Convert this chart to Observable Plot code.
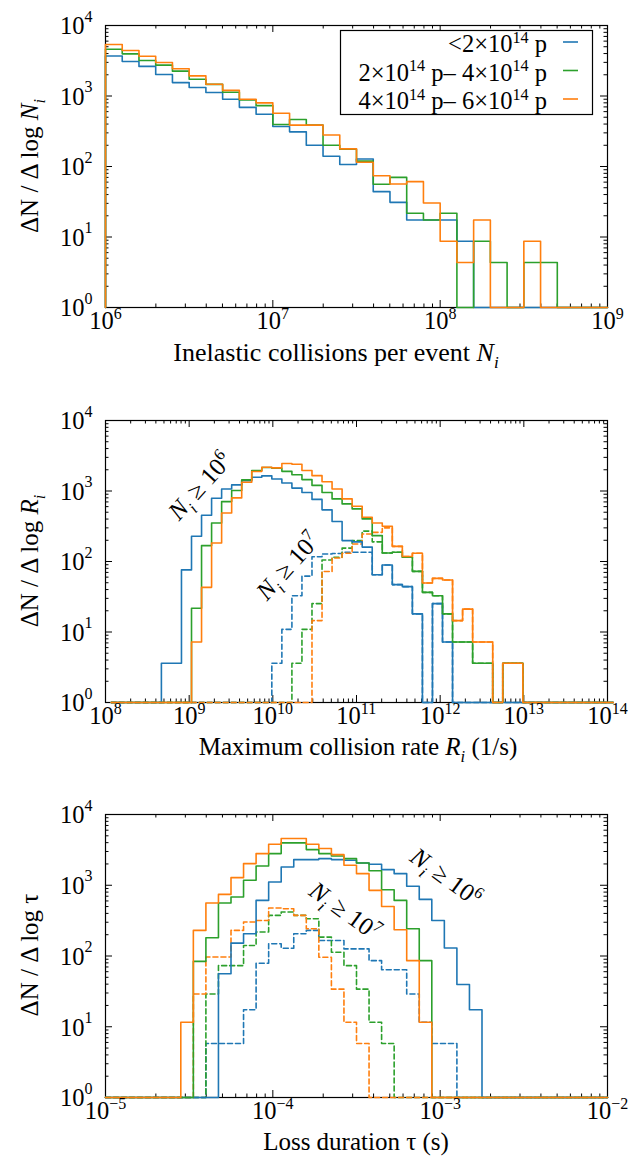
<!DOCTYPE html>
<html>
<head>
<meta charset="utf-8">
<script src="https://cdn.jsdelivr.net/npm/d3@7"></script>
<script src="https://cdn.jsdelivr.net/npm/@observablehq/plot@0.6"></script>
<style>
  html, body { margin: 0; padding: 0; background: #fff; }
  #chart { width: 634px; height: 1172px; }
  #chart svg { display: block; }
</style>
</head>
<body>
<div id="chart"></div>
<script>
// ================= DATA =================
const seriesColors = ["#1f77b4", "#2ca02c", "#ff7f0e"]; // <2e14 p, 2-4e14 p, 4-6e14 p

// ---- Panel 1: inelastic collisions per event (bins of 0.1 decade from 10^6) ----
const collisionBinStartExp = 6;
const collisionBinWidth = 0.1;
const collisionsLow  = [3700, 3090, 2630, 2020, 1550, 1320, 1120, 900, 690, 550, 370, 310, 200, 140, 107, 128, 44, 31, 17.4, 17.4, 17.4, 8.7, 0, 0, 0, 0, 0, 0, 0, 0];
const collisionsMid  = [4600, 3960, 3190, 2740, 2250, 1730, 1460, 1130, 880, 730, 395, 464, 386, 200, 176, 119, 56, 70, 21.7, 17.4, 21.7, 0, 8.7, 4.34, 0, 4.34, 4.34, 0, 0, 0];
const collisionsHigh = [5370, 4420, 3670, 2990, 2430, 1930, 1470, 1200, 900, 800, 570, 386, 386, 280, 178, 115, 74, 56.5, 61, 30.4, 8.7, 4.34, 17.4, 0, 0, 8.7, 0, 0, 0, 0];

// ---- Panel 2: maximum collision rate (bins of 0.12 decade) ----
const rateBinStartExp = 8.068;
const rateBinWidth = 0.12;
const rateLowAll  = [0,0,0,0,0, 3.6,3.6,76,228,452, 789,1070,1220,1400,1570, 1640,1480,1300,1100,950, 760,540,370,198,190, 160,65,89,47,44, 18.1,0,25.3,7.2,0, 0,0,0,0,0, 0,0,0,0,0, 0,0,0,0,0];
const rateMidAll  = [0,0,0,0,0, 0,0,0,21.7,168, 352,707,1014,1436,1950, 2150,2100,1900,1700,1450, 1200,950,772,656,557, 402,233,132,135,115, 72.5,36.5,32.7,18.1,7.2, 7.2,3.6,3.6,0,3.6, 3.6,0,0,0,0, 0,0,0,0,0];
const rateHighAll = [0,0,0,0,0, 0,0,0,7.2,43, 183,488,798,1331,1888, 2175,2128,2450,2400,1950, 1650,1350,1070,772,607, 424,352,316,164,118, 131,49.5,57.7,54.6,14.5, 21.1,7.2,7.2,0,3.6, 3.6,0,0,0,0, 0,0,0,0,0];
const rateLowBig  = [0,0,0,0,0, 0,0,0,0,0, 0,0,0,0,0, 0,3.6,10.9,32.6,62, 117,128,130,135,135, 135,65,89,47,44, 18.1,0,25.3,7.2,0, 0,0,0,0,0, 0,0,0,0,0, 0,0,0,0,0];
const rateMidBig  = [0,0,0,0,0, 0,0,0,0,0, 0,0,0,0,0, 0,0,0,3.6,10.9, 25.3,105,115,155,198, 270,190,132,135,115, 72.5,36.5,32.7,18.1,7.2, 7.2,3.6,3.6,0,3.6, 3.6,0,0,0,0, 0,0,0,0,0];
const rateHighBig = [0,0,0,0,0, 0,0,0,0,0, 0,0,0,0,0, 0,0,0,0,0, 14.5,72,112,131,177, 246,259,300,164,118, 131,49.5,57.7,54.6,14.5, 21.1,7.2,7.2,0,3.6, 3.6,0,0,0,0, 0,0,0,0,0];

// ---- Panel 3: loss duration (bins of 0.075 decade from 10^-5) ----
const durationBinStartExp = -5;
const durationBinWidth = 0.075;
const durLowAll  = [0,0,0,0,0, 0,0,0,0,56, 152,206,611,1112,1815, 2303,2303,2382,2303,2254, 2066,1979,1662,1459,966, 631,318,130,39.5,17.4, 0,0,0,0,0, 0,0,0,0,0];
const durMidAll  = [0,0,0,0,0, 0,0,84,181,561, 682,1175,1875,2800,3970, 3970,3193,2800,2597,2382, 2066,1600,865,611,243, 86,0,0,0,0, 0,0,0,0,0, 0,0,0,0,0];
const durHighAll = [0,0,0,0,0, 0,11.6,230,561,743, 1280,2023,2800,3800,4573, 4573,3800,3300,2712,1915, 1459,847,502,235,86, 11.6,0,0,0,0, 0,0,0,0,0, 0,0,0,0,0];
const durLowBig  = [0,0,0,0,0, 0,0,0,5.8,5.8, 5.8,17.4,79,149,129, 206,230,166,166,126, 126,86,64,64,29, 11.6,5.8,5.8,0,0, 0,0,0,0,0, 0,0,0,0,0];
const durMidBig  = [0,0,0,0,0, 0,0,0,29,73, 73,141,218,375,418, 375,336,185,113,73, 34,11.6,5.8,0,0, 0,0,0,0,0, 0,0,0,0,0, 0,0,0,0,0];
const durHighBig = [0,0,0,0,0, 0,0,29,97,97, 230,302,318,476,466, 375,243,96,34,11.6, 5.8,0,0,0,0, 0,0,0,0,0, 0,0,0,0,0, 0,0,0,0,0];

// ---- tick labels ----
const collisionTicks = [1e6, 1e7, 1e8, 1e9];
const collisionTickExp = ["6", "7", "8", "9"];
const rateTicks = [1e8, 1e9, 1e10, 1e11, 1e12, 1e13, 1e14];
const rateTickExp = ["8", "9", "10", "11", "12", "13", "14"];
const durationTicks = [1e-5, 1e-4, 1e-3, 1e-2];
const durationTickExp = ["\u22125", "\u22124", "\u22123", "\u22122"];
const countTicks = [1, 10, 100, 1000, 10000];
const countTickExp = ["0", "1", "2", "3", "4"];

// ================= RENDERING =================
const FONT = "'Liberation Serif', 'Times New Roman', serif";
const W = 634, ML = 105, MR = 27;
const BASE = 24.5, SUP = 16;

function binEdges(startExp, width, n) {
  return d3.range(n + 1).map(i => Math.pow(10, startExp + width * i));
}
function stepPoints(vals, edges) {
  const pts = [{x: edges[0], y: 1}];
  vals.forEach((v, i) => pts.push({x: edges[i], y: Math.max(v, 1)}));
  pts.push({x: edges[vals.length], y: Math.max(vals[vals.length - 1], 1)});
  pts.push({x: edges[vals.length], y: 1});
  return pts;
}
function minorTicks(major) {
  const out = [];
  for (let i = 0; i < major.length - 1; i++)
    for (let k = 2; k <= 9; k++) out.push(major[i] * k);
  return out;
}
function supWidth(s) {
  let w = 0;
  for (const c of s) w += (c === "\u2212" ? 0.564 : 0.5) * SUP;
  return w;
}

function makePanel(cfg) {
  const {height, mt, mb, xDomain, xTicks, xExp, series} = cfg;
  const plotH = height - mt - mb, plotW = W - ML - MR;
  const xMinor = minorTicks(xTicks);
  const yMinor = minorTicks(countTicks);
  const marks = [];
  // frame and inward ticks first, so the histogram lines sit on top
  marks.push(Plot.frame({stroke: "black", strokeWidth: 1.2}));
  const MAJ = 7, MIN = 3.5;
  marks.push(Plot.ruleX(xTicks, {insetBottom: plotH - MAJ, stroke: "black"}));
  marks.push(Plot.ruleX(xTicks, {insetTop: plotH - MAJ, stroke: "black"}));
  marks.push(Plot.ruleX(xMinor, {insetBottom: plotH - MIN, stroke: "black"}));
  marks.push(Plot.ruleX(xMinor, {insetTop: plotH - MIN, stroke: "black"}));
  marks.push(Plot.ruleY(countTicks, {insetRight: plotW - MAJ, stroke: "black"}));
  marks.push(Plot.ruleY(countTicks, {insetLeft: plotW - MAJ, stroke: "black"}));
  marks.push(Plot.ruleY(yMinor, {insetRight: plotW - MIN, stroke: "black"}));
  marks.push(Plot.ruleY(yMinor, {insetLeft: plotW - MIN, stroke: "black"}));
  for (const s of series) {
    marks.push(Plot.line(stepPoints(s.values, s.edges), {
      x: "x", y: "y", curve: "step-after", stroke: s.color, strokeWidth: 1.6,
      strokeDasharray: s.dashed ? "5,3" : null
    }));
  }

  // x tick labels "10" + superscript exponent, grouped by exponent width
  const xl = xTicks.map((v, i) => ({v, e: xExp[i]}));
  const groups = d3.group(xl, d => d.e.length + (d.e.includes("\u2212") ? "m" : ""));
  for (const [, g] of groups) {
    const ws = supWidth(g[0].e), w10 = BASE;
    const off = (w10 - ws) / 2;
    marks.push(Plot.text(g, {x: "v", text: () => "10", frameAnchor: "bottom", dy: 21, dx: off,
      textAnchor: "end", fontSize: BASE, fontFamily: FONT}));
    marks.push(Plot.text(g, {x: "v", text: "e", frameAnchor: "bottom", dy: 11, dx: off,
      textAnchor: "start", fontSize: SUP, fontFamily: FONT}));
  }
  // y tick labels
  const yl = countTicks.map((v, i) => ({v, e: countTickExp[i]}));
  const gap = 13;
  marks.push(Plot.text(yl, {y: "v", text: () => "10", frameAnchor: "left", dx: -(gap + supWidth("0")),
    textAnchor: "end", fontSize: BASE, fontFamily: FONT, dy: 1}));
  marks.push(Plot.text(yl, {y: "v", text: "e", frameAnchor: "left", dx: -gap, dy: -9,
    textAnchor: "end", fontSize: SUP, fontFamily: FONT}));

  const svg = Plot.plot({
    width: W, height, marginLeft: ML, marginRight: MR, marginTop: mt, marginBottom: mb,
    x: {type: "log", domain: xDomain, axis: null},
    y: {type: "log", domain: [1, 1e4], axis: null},
    style: {background: "white", fontFamily: FONT, overflow: "visible"},
    marks
  });
  return svg;
}

function rich(svg, parts, {x, y, size = 25, anchor = "middle", rotate = 0}) {
  const g = d3.select(svg).append("g").attr("transform", `translate(${x},${y}) rotate(${rotate})`);
  const t = g.append("text").attr("x", 0).attr("y", size * 0.33)
    .attr("text-anchor", anchor).attr("font-family", FONT).attr("font-size", size).attr("fill", "black");
  let shift = 0;
  for (const p of parts) {
    const ts = t.append("tspan").text(p.t);
    const target = p.sub ? size * 0.28 : p.sup ? -size * 0.38 : 0;
    if (target !== shift) { ts.attr("dy", target - shift); shift = target; }
    if (p.sub || p.sup) ts.attr("font-size", size * 0.66);
    if (p.it) ts.attr("font-style", "italic");
  }
  return t;
}

const chart = document.getElementById("chart");

// ---------- Panel 1 ----------
const e1 = binEdges(collisionBinStartExp, collisionBinWidth, collisionsLow.length);
const p1 = makePanel({
  height: 395, mt: 25, mb: 88, xDomain: [1e6, 1e9], xTicks: collisionTicks, xExp: collisionTickExp,
  series: [
    {values: collisionsLow, edges: e1, color: seriesColors[0]},
    {values: collisionsMid, edges: e1, color: seriesColors[1]},
    {values: collisionsHigh, edges: e1, color: seriesColors[2]}
  ]
});
chart.appendChild(p1);

// ---------- Panel 2 ----------
const e2 = binEdges(rateBinStartExp, rateBinWidth, rateLowAll.length);
const p2 = makePanel({
  height: 395, mt: 25, mb: 88, xDomain: [1e8, 1e14], xTicks: rateTicks, xExp: rateTickExp,
  series: [
    {values: rateLowBig, edges: e2, color: seriesColors[0], dashed: true},
    {values: rateMidBig, edges: e2, color: seriesColors[1], dashed: true},
    {values: rateHighBig, edges: e2, color: seriesColors[2], dashed: true},
    {values: rateLowAll, edges: e2, color: seriesColors[0]},
    {values: rateMidAll, edges: e2, color: seriesColors[1]},
    {values: rateHighAll, edges: e2, color: seriesColors[2]}
  ]
});
chart.appendChild(p2);

// ---------- Panel 3 ----------
const e3 = binEdges(durationBinStartExp, durationBinWidth, durLowAll.length);
const p3 = makePanel({
  height: 382, mt: 24, mb: 75, xDomain: [1e-5, 1e-2], xTicks: durationTicks, xExp: durationTickExp,
  series: [
    {values: durLowBig, edges: e3, color: seriesColors[0], dashed: true},
    {values: durMidBig, edges: e3, color: seriesColors[1], dashed: true},
    {values: durHighBig, edges: e3, color: seriesColors[2], dashed: true},
    {values: durLowAll, edges: e3, color: seriesColors[0]},
    {values: durMidAll, edges: e3, color: seriesColors[1]},
    {values: durHighAll, edges: e3, color: seriesColors[2]}
  ]
});
chart.appendChild(p3);

// ---------- axis titles ----------
const TS = 25;
rich(p1, [{t: "\u0394N / \u0394 log "}, {t: "N", it: true}, {t: "i", it: true, sub: true}], {x: 30, y: 166, size: TS, rotate: -90});
rich(p2, [{t: "\u0394N / \u0394 log "}, {t: "R", it: true}, {t: "i", it: true, sub: true}], {x: 30, y: 166, size: TS, rotate: -90});
rich(p3, [{t: "\u0394N / \u0394 log \u03c4"}], {x: 30, y: 165, size: TS, rotate: -90});

rich(p1, [{t: "Inelastic collisions per event "}, {t: "N", it: true}, {t: "i", it: true, sub: true}], {x: 336, y: 352, size: 26});
rich(p2, [{t: "Maximum collision rate "}, {t: "R", it: true}, {t: "i", it: true, sub: true}, {t: " (1/s)"}], {x: 358, y: 352, size: TS});
rich(p3, [{t: "Loss duration \u03c4 (s)"}], {x: 356, y: 352, size: TS});

// ---------- legend (panel 1) ----------
{
  const s = d3.select(p1);
  s.append("rect").attr("x", 340.5).attr("y", 30.5).attr("width", 252).attr("height", 84)
    .attr("fill", "white").attr("stroke", "black").attr("stroke-width", 1.2);
  const rows = [
    [{t: "<2\u00d710"}, {t: "14", sup: true}, {t: " p"}],
    [{t: "2\u00d710"}, {t: "14", sup: true}, {t: " p\u2013 4\u00d710"}, {t: "14", sup: true}, {t: " p"}],
    [{t: "4\u00d710"}, {t: "14", sup: true}, {t: " p\u2013 6\u00d710"}, {t: "14", sup: true}, {t: " p"}]
  ];
  rows.forEach((r, i) => {
    const cy = 44 + i * 28.5;
    rich(p1, r, {x: 547, y: cy, size: 24.5, anchor: "end"});
    s.append("line").attr("x1", 563).attr("x2", 578).attr("y1", cy - 2).attr("y2", cy - 2)
      .attr("stroke", seriesColors[i]).attr("stroke-width", 1.6);
  });
}

// ---------- annotations ----------
const ge6 = [{t: "N", it: true}, {t: "i", it: true, sub: true}, {t: " \u2265 10"}, {t: "6", sup: true}];
const ge7 = [{t: "N", it: true}, {t: "i", it: true, sub: true}, {t: " \u2265 10"}, {t: "7", sup: true}];
rich(p2, ge6, {x: 200, y: 486 - 395, size: 25, rotate: -48});
rich(p2, ge7, {x: 288, y: 566 - 395, size: 25, rotate: -48});
rich(p3, ge6, {x: 446, y: 877 - 790, size: 25, rotate: 36});
rich(p3, ge7, {x: 345, y: 911 - 790, size: 25, rotate: 36});
</script>
</body>
</html>
